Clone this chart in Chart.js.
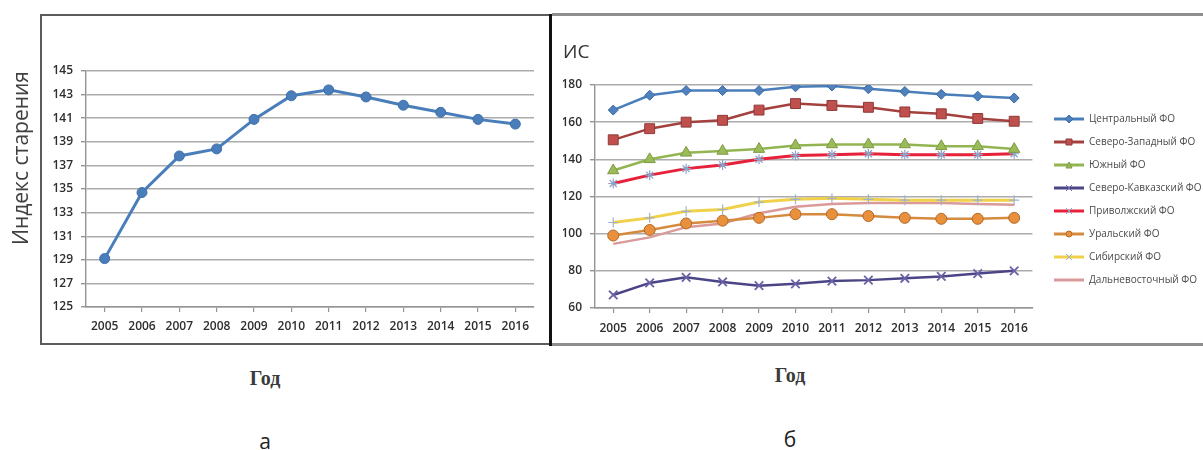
<!DOCTYPE html>
<html lang="ru">
<head>
<meta charset="utf-8">
<script src="https://cdn.jsdelivr.net/npm/chart.js@4.4.1/dist/chart.umd.min.js"></script>
<style>
  html, body { margin: 0; padding: 0; background: #fff; }
  body { width: 1203px; height: 450px; position: relative; overflow: hidden; font-family: "Open Sans", sans-serif; }
  .abs { position: absolute; }
  canvas { display: block; }
  #frameLeft { left: 40px; top: 14px; width: 509px; height: 327px; border-top: 2px solid #5c5c5c; border-left: 2px solid #5c5c5c; border-bottom: 2px solid #5c5c5c; }
  #divider { left: 549px; top: 14px; width: 3px; height: 332px; background: #111; }
  #frameRight { left: 552px; top: 13px; width: 651px; height: 327px; border-top: 3px solid #8e8e8e; border-bottom: 3px solid #8e8e8e; }
  .cap { font-family: "Liberation Serif", serif; font-weight: bold; font-size: 20px; line-height: 24px; color: #3a3a3a; text-align: center; width: 120px; }
  .letter { font-family: "Open Sans", sans-serif; font-size: 21px; line-height: 26px; color: #222; text-align: center; width: 60px; }
</style>
</head>
<body>
<div class="abs" style="left:0;top:17px;"><canvas id="chartA" width="549" height="326"></canvas></div>
<div class="abs" style="left:553px;top:17px;"><canvas id="chartB" width="650" height="326"></canvas></div>
<div id="frameLeft" class="abs"></div>
<div id="divider" class="abs"></div>
<div id="frameRight" class="abs"></div>
<div class="abs cap" style="left:205px;top:366px;">Год</div>
<div class="abs cap" style="left:730px;top:363px;">Год</div>
<div class="abs letter" style="left:235px;top:428px;">а</div>
<div class="abs letter" style="left:760px;top:426px;">б</div>
<script>
// Годы наблюдения
const years = ['2005', '2006', '2007', '2008', '2009', '2010', '2011', '2012', '2013', '2014', '2015', '2016'];

// а) Индекс старения, Российская Федерация
const agingIndexRF = [129.1, 134.7, 137.8, 138.4, 140.9, 142.9, 143.4, 142.8, 142.1, 141.5, 140.9, 140.5];
const ticksA = [125, 127, 129, 131, 133, 135, 137, 139, 141, 143, 145];

// б) Индекс старения по федеральным округам
const districtNames = ['Центральный ФО', 'Северо-Западный ФО', 'Южный ФО', 'Северо-Кавказский ФО',
                       'Приволжский ФО', 'Уральский ФО', 'Сибирский ФО', 'Дальневосточный ФО'];
const central       = [166.5, 174.5, 177, 177, 177, 179, 179.5, 178, 176.5, 175, 174, 173];
const northWest     = [150.5, 156.5, 160, 161, 166.5, 170, 169, 168, 165.5, 164.5, 162, 160.5];
const south         = [134, 140, 143.5, 144.5, 145.5, 147.5, 148, 148, 148, 147, 147, 145.5];
const northCaucasus = [67, 73.5, 76.5, 74, 72, 73, 74.5, 75, 76, 77, 78.5, 80];
const volga         = [127, 131.5, 135, 137, 140, 142, 142.5, 143, 142.5, 142.5, 142.5, 143];
const ural          = [99, 102, 105.5, 107, 108.5, 110.5, 110.5, 109.5, 108.5, 108, 108, 108.5];
const siberia       = [106, 108.5, 112, 113, 117, 118.5, 119, 118.5, 118, 118, 118, 118];
const farEast       = [94.5, 98, 103.5, 105.5, 111, 114.5, 116, 116.5, 116.5, 116.5, 116, 115.5];
const ticksB = [60, 80, 100, 120, 140, 160, 180];

const tickFont = { family: 'Open Sans', size: 12, weight: '600' };
const tickColor = '#2e2e2e';
const gridColor = '#acacac';
const axisColor = '#959595';

// ---------- а ----------
new Chart(document.getElementById('chartA'), {
  type: 'line',
  data: {
    labels: years,
    datasets: [{
      data: agingIndexRF,
      borderColor: '#4a7ebb',
      backgroundColor: '#4a7ebb',
      borderWidth: 3,
      pointRadius: 5,
      pointBorderColor: '#3f6fa8',
      pointBorderWidth: 1,
      tension: 0
    }]
  },
  options: {
    responsive: false,
    animation: false,
    devicePixelRatio: 1,
    layout: { padding: { left: 0, right: 15, top: 54, bottom: 0 } },
    plugins: { legend: { display: false }, tooltip: { enabled: false } },
    scales: {
      x: {
        offset: true,
        afterFit: s => { s.height = 36; },
        grid: { drawOnChartArea: false, offset: false, tickLength: 5, color: axisColor, lineWidth: 1.2 },
        border: { color: axisColor, width: 1.4 },
        ticks: { padding: 7, maxRotation: 0, autoSkip: false, color: tickColor, font: tickFont }
      },
      y: {
        min: ticksA[0],
        max: ticksA[ticksA.length - 1],
        afterBuildTicks: s => { s.ticks = ticksA.map(v => ({ value: v })); },
        afterFit: s => { s.width = 86; },
        grid: { color: gridColor, lineWidth: 1.4, tickLength: 5, tickColor: axisColor },
        border: { color: axisColor, width: 1.4 },
        ticks: { padding: 8, color: tickColor, font: tickFont },
        title: {
          display: true,
          text: 'Индекс старения',
          align: 'end',
          color: '#404040',
          font: { family: 'Open Sans', size: 21, weight: 'normal' },
          padding: { top: 9, bottom: 0 }
        }
      }
    }
  }
});

// ---------- б ----------
const seriesB = [central, northWest, south, northCaucasus, volga, ural, siberia, farEast];
const looks = [
  { line: '#4a7ebb', width: 2.5, style: 'rectRot', r: 5,   fill: '#4f81bd', edge: '#3a6aa5', bw: 1 },
  { line: '#a4403d', width: 2.5, style: 'rect',    r: 7,   fill: '#c0504d', edge: '#8e3a37', bw: 1 },
  { line: '#92b552', width: 2.5, style: 'triangle',r: 6.5, fill: '#9bbb59', edge: '#7c9a44', bw: 1 },
  { line: '#4b4587', width: 2.5, style: 'crossRot',r: 6,   fill: 'rgba(0,0,0,0)', edge: '#6a62a6', bw: 1.8 },
  { line: '#e62139', width: 3,   style: 'star',    r: 5,   fill: 'rgba(0,0,0,0)', edge: '#8ba2c9', bw: 1.2 },
  { line: '#d58a3e', width: 2.5, style: 'circle',  r: 5.5, fill: '#e8903c', edge: '#b46a2a', bw: 1 },
  { line: '#f1d14a', width: 3,   style: 'cross',   r: 5,   fill: 'rgba(0,0,0,0)', edge: '#9fb2cc', bw: 1.2 },
  { line: '#d99a99', width: 2.5, style: 'circle',  r: 0,   fill: '#d99a99', edge: '#d99a99', bw: 0 }
];

// маленькие значки для легенды: линия с маркером посередине
function legendIcon(lk) {
  const c = document.createElement('canvas');
  c.width = 30; c.height = 12;
  const g = c.getContext('2d');
  g.strokeStyle = lk.line; g.lineWidth = 3;
  g.beginPath(); g.moveTo(0, 6); g.lineTo(30, 6); g.stroke();
  if (lk.r > 0) {
    g.fillStyle = lk.fill; g.strokeStyle = lk.edge; g.lineWidth = 1;
    g.beginPath();
    const cx = 15, cy = 6, s = 3;
    if (lk.style === 'rect') { g.rect(cx - s, cy - s, 2 * s, 2 * s); }
    else if (lk.style === 'rectRot') { g.moveTo(cx, cy - s - 1); g.lineTo(cx + s + 1, cy); g.lineTo(cx, cy + s + 1); g.lineTo(cx - s - 1, cy); g.closePath(); }
    else if (lk.style === 'triangle') { g.moveTo(cx, cy - s); g.lineTo(cx + s, cy + s); g.lineTo(cx - s, cy + s); g.closePath(); }
    else if (lk.style === 'circle') { g.arc(cx, cy, s, 0, Math.PI * 2); }
    if (lk.style === 'crossRot' || lk.style === 'star' || lk.style === 'cross') {
      g.moveTo(cx - s, cy - s); g.lineTo(cx + s, cy + s); g.moveTo(cx + s, cy - s); g.lineTo(cx - s, cy + s);
      g.stroke();
    } else { g.fill(); g.stroke(); }
  }
  return c;
}
const icons = looks.map(legendIcon);

// легенда справа: точное место блока
const legendPlace = {
  id: 'legendPlace',
  afterLayout(chart) {
    const lg = chart.legend;
    if (!lg) return;
    const w = lg.right - lg.left, h = lg.bottom - lg.top;
    lg.left = 488; lg.right = 488 + w;
    lg.top = 84; lg.bottom = 84 + h;
  }
};

new Chart(document.getElementById('chartB'), {
  type: 'line',
  data: {
    labels: years,
    datasets: seriesB.map((vals, i) => ({
      label: districtNames[i],
      data: vals,
      borderColor: looks[i].line,
      backgroundColor: looks[i].fill,
      borderWidth: looks[i].width,
      pointStyle: looks[i].style,
      pointRadius: looks[i].r,
      pointBackgroundColor: looks[i].fill,
      pointBorderColor: looks[i].edge,
      pointBorderWidth: looks[i].bw,
      tension: 0
    }))
  },
  options: {
    responsive: false,
    animation: false,
    devicePixelRatio: 1,
    layout: { padding: { left: 10, right: 0, top: 0, bottom: 0 } },
    plugins: {
      tooltip: { enabled: false },
      title: {
        display: true,
        text: 'ИС',
        align: 'start',
        color: '#333',
        font: { family: 'Open Sans', size: 19, weight: 'normal' },
        padding: { top: 24, bottom: 21.2 }
      },
      legend: {
        position: 'right',
        align: 'start',
        maxWidth: 171,
        labels: {
          usePointStyle: true,
          pointStyleWidth: 30,
          padding: 13,
          color: '#4a4a4a',
          font: { family: 'Open Sans', size: 10 },
          generateLabels(chart) {
            const items = Chart.defaults.plugins.legend.labels.generateLabels(chart);
            items.forEach((it, i) => { it.pointStyle = icons[i]; });
            return items;
          }
        }
      }
    },
    scales: {
      x: {
        offset: true,
        afterFit: s => { s.height = 35; },
        grid: { drawOnChartArea: false, offset: false, tickLength: 5, color: axisColor, lineWidth: 1.2 },
        border: { color: axisColor, width: 1.4 },
        ticks: { padding: 8, maxRotation: 0, autoSkip: false, color: tickColor, font: tickFont }
      },
      y: {
        min: ticksB[0],
        max: ticksB[ticksB.length - 1],
        afterBuildTicks: s => { s.ticks = ticksB.map(v => ({ value: v })); },
        afterFit: s => { s.width = 32; },
        grid: { color: gridColor, lineWidth: 1.4, tickLength: 5, tickColor: axisColor },
        border: { color: axisColor, width: 1.4 },
        ticks: { padding: 8, color: tickColor, font: tickFont }
      }
    }
  },
  plugins: [legendPlace]
});
</script>
</body>
</html>
